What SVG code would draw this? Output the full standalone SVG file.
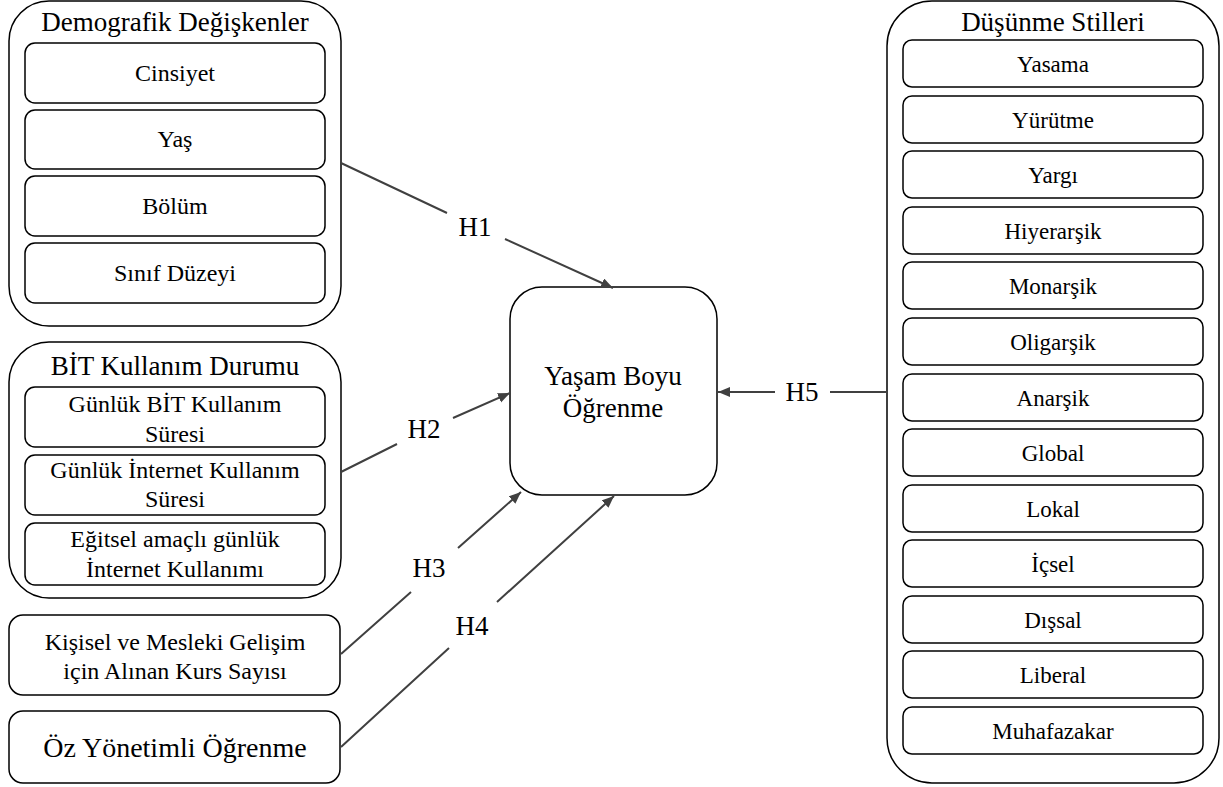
<svg xmlns="http://www.w3.org/2000/svg" width="1223" height="787" viewBox="0 0 1223 787">
<style>
.box{fill:#fff;stroke:#000;stroke-width:1.5}
.t{font-family:'Liberation Serif','Times New Roman',serif;fill:#000;text-anchor:middle}
.s24{font-size:24px}
.s23{font-size:23px}
.s27{font-size:27px}
.s28{font-size:28px}
.conn{fill:none;stroke:#404040;stroke-width:2}
</style>
<defs>
<marker id="arr" markerUnits="userSpaceOnUse" markerWidth="14" markerHeight="12" refX="12" refY="5" orient="auto">
<path d="M0,0 L12,5 L0,10 Z" fill="#404040"/>
</marker>
</defs>
<rect width="1223" height="787" fill="#fff"/>

<g id="demografik">
<rect class="box" x="9" y="1" width="332" height="325" rx="40"/>
<text class="t s27" x="175" y="31">Demografik Değişkenler</text>
<rect class="box" x="25" y="43" width="300" height="60" rx="10"/>
<text class="t s24" x="175" y="81">Cinsiyet</text>
<rect class="box" x="25" y="110" width="300" height="59" rx="10"/>
<text class="t s24" x="175" y="147">Yaş</text>
<rect class="box" x="25" y="176" width="300" height="60" rx="10"/>
<text class="t s24" x="175" y="214">Bölüm</text>
<rect class="box" x="25" y="243" width="300" height="60" rx="10"/>
<text class="t s24" x="175" y="281">Sınıf Düzeyi</text>
</g>

<g id="bit">
<rect class="box" x="9" y="342" width="332" height="256" rx="40"/>
<text class="t s27" x="175" y="375">BİT Kullanım Durumu</text>
<rect class="box" x="25" y="387" width="300" height="60" rx="10"/>
<text class="t s24" x="175" y="412">Günlük BİT Kullanım</text>
<text class="t s24" x="175" y="442">Süresi</text>
<rect class="box" x="25" y="455" width="300" height="60" rx="10"/>
<text class="t s24" x="175" y="478">Günlük İnternet Kullanım</text>
<text class="t s24" x="175" y="507">Süresi</text>
<rect class="box" x="25" y="523" width="300" height="62" rx="10"/>
<text class="t s24" x="175" y="547">Eğitsel amaçlı günlük</text>
<text class="t s24" x="175" y="577">İnternet Kullanımı</text>
</g>

<g id="kurs">
<rect class="box" x="9" y="615" width="331" height="80" rx="14"/>
<text class="t s24" x="175" y="650">Kişisel ve Mesleki Gelişim</text>
<text class="t s24" x="175" y="679">için Alınan Kurs Sayısı</text>
</g>

<g id="ozyonetimli">
<rect class="box" x="9" y="711" width="331" height="72" rx="14"/>
<text class="t s28" x="175" y="757">Öz Yönetimli Öğrenme</text>
</g>

<g id="yasamboyu">
<rect class="box" x="510" y="287" width="207" height="208" rx="32"/>
<text class="t s27" x="613" y="385">Yaşam Boyu</text>
<text class="t s27" x="613" y="417">Öğrenme</text>
</g>

<g id="dusunme">
<rect class="box" x="887" y="1" width="332" height="782" rx="45"/>
<text class="t s27" x="1053" y="31">Düşünme Stilleri</text>
<rect class="box" x="903" y="40" width="300" height="47" rx="9"/>
<text class="t s23" x="1053" y="72">Yasama</text>
<rect class="box" x="903" y="96" width="300" height="47" rx="9"/>
<text class="t s23" x="1053" y="128">Yürütme</text>
<rect class="box" x="903" y="151" width="300" height="47" rx="9"/>
<text class="t s23" x="1053" y="183">Yargı</text>
<rect class="box" x="903" y="207" width="300" height="47" rx="9"/>
<text class="t s23" x="1053" y="239">Hiyerarşik</text>
<rect class="box" x="903" y="262" width="300" height="47" rx="9"/>
<text class="t s23" x="1053" y="294">Monarşik</text>
<rect class="box" x="903" y="318" width="300" height="47" rx="9"/>
<text class="t s23" x="1053" y="350">Oligarşik</text>
<rect class="box" x="903" y="374" width="300" height="47" rx="9"/>
<text class="t s23" x="1053" y="406">Anarşik</text>
<rect class="box" x="903" y="429" width="300" height="47" rx="9"/>
<text class="t s23" x="1053" y="461">Global</text>
<rect class="box" x="903" y="485" width="300" height="47" rx="9"/>
<text class="t s23" x="1053" y="517">Lokal</text>
<rect class="box" x="903" y="540" width="300" height="47" rx="9"/>
<text class="t s23" x="1053" y="572">İçsel</text>
<rect class="box" x="903" y="596" width="300" height="47" rx="9"/>
<text class="t s23" x="1053" y="628">Dışsal</text>
<rect class="box" x="903" y="651" width="300" height="47" rx="9"/>
<text class="t s23" x="1053" y="683">Liberal</text>
<rect class="box" x="903" y="707" width="300" height="47" rx="9"/>
<text class="t s23" x="1053" y="739">Muhafazakar</text>
</g>

<g id="connectors">
<path class="conn" d="M341,163 L447,213 M505,239 L613,288" marker-end="url(#arr)"/>
<path class="conn" d="M341,472 L397,444 M453,418 L510,393" marker-end="url(#arr)"/>
<path class="conn" d="M341,654 L411,592 M458,548 L521,492" marker-end="url(#arr)"/>
<path class="conn" d="M341,747 L449,648 M497,602 L614,496" marker-end="url(#arr)"/>
<path class="conn" d="M887,392 L830,392 M775,392 L718,392" marker-end="url(#arr)"/>
<text class="t s27" x="475" y="236">H1</text>
<text class="t s27" x="424" y="438">H2</text>
<text class="t s27" x="429" y="577">H3</text>
<text class="t s27" x="472" y="635">H4</text>
<text class="t s27" x="802" y="401">H5</text>
</g>
</svg>
